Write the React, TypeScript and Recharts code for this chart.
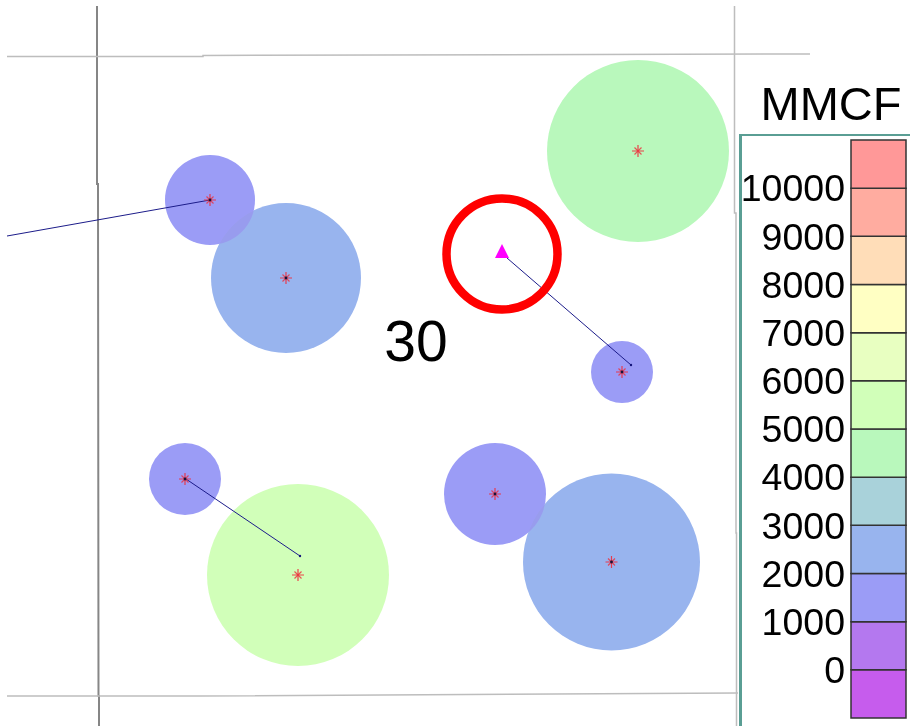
// App.tsx
import React from "react";
import { ScatterChart, Scatter, XAxis, YAxis, ZAxis, ReferenceDot, BarChart, Bar } from "recharts";

// wells, in map units
const wellX = [638, 286, 210, 622, 185, 298, 495, 611.5];
const wellY = [151, 278, 200, 372, 479, 575, 494, 562];
const wellArea = [26016, 17671, 6362, 3019, 4072, 26016, 8171, 24606];
const wellVolume = [4600, 2500, 1500, 1400, 1500, 5500, 1700, 2600];

// drawn biggest first so the small bubbles sit on top
const bubbleOrder = [0, 5, 7, 1, 2, 6, 4, 3];

const wells = bubbleOrder.map((i) => ({
  x: wellX[i],
  y: wellY[i],
  z: wellArea[i],
  volume: wellVolume[i],
}));

// legend bands, bottom to top
const bandLower = [-1000, 0, 1000, 2000, 3000, 4000, 5000, 6000, 7000, 8000, 9000, 10000];
const bandColors = [
  "#c65ced", "#b478ef", "#9b9cf6", "#98b4ee", "#a9d2da", "#b9f8bc",
  "#d1ffb9", "#e8ffc1", "#ffffc3", "#ffddb8", "#ffaca0", "#ff9898",
];
const legendTicks = [0, 1000, 2000, 3000, 4000, 5000, 6000, 7000, 8000, 9000, 10000];

const legendRow: Record<string, string | number> = { name: "MMCF" };
bandLower.forEach((lo, i) => {
  legendRow[`band${i}`] = lo < 0 ? lo : 1000;
});

// section lines
const sectionWest = [
  { x: 97, y: 6 }, { x: 97, y: 184 }, { x: 98, y: 184 }, { x: 98.5, y: 696 }, { x: 99, y: 696 }, { x: 99, y: 726 },
];
const sectionEast = [
  { x: 734.5, y: 6 }, { x: 734.5, y: 213 }, { x: 736, y: 213 }, { x: 736, y: 533 }, { x: 736.5, y: 533 }, { x: 736.5, y: 726 },
];
const sectionNorth = [
  { x: 7, y: 56.5 }, { x: 203, y: 56.5 }, { x: 203, y: 55.5 }, { x: 810, y: 54 },
];
const sectionSouth = [
  { x: 7, y: 696 }, { x: 200, y: 696 }, { x: 738, y: 693 },
];
const sections = [sectionWest, sectionEast, sectionNorth, sectionSouth];

// horizontal well paths, last point is the toe
const pathA = [{ x: 7, y: 236 }, { x: 210, y: 200 }];
const pathB = [{ x: 507, y: 258 }, { x: 631, y: 365 }];
const pathC = [{ x: 186, y: 479 }, { x: 300, y: 556 }];
const wellPaths = [pathA, pathB, pathC];

const prospect = [{ x: 502, y: 252 }];
const sectionLabels = [{ x: 416, y: 341, label: "30" }];

const bandColor = (volume: number) => {
  const i = bandLower.findIndex((lo) => volume >= lo && volume < lo + 1000);
  return bandColors[i];
};

const Bubble = (props: any) => (
  <circle
    cx={props.cx}
    cy={props.cy}
    r={props.width / 2}
    fill={bandColor(props.payload.volume)}
    style={{ mixBlendMode: "darken" }}
  />
);

const WellStar = (props: any) => {
  const { cx, cy } = props;
  const red = "#ee2f3c";
  return (
    <g>
      <path d={`M${cx - 6} ${cy}H${cx + 6}M${cx} ${cy - 6}V${cy + 6}`} stroke={red} strokeWidth={1.2} opacity={0.9} />
      <path
        d={`M${cx - 3.5} ${cy - 3.5}L${cx + 3.5} ${cy + 3.5}M${cx - 3.5} ${cy + 3.5}L${cx + 3.5} ${cy - 3.5}`}
        stroke={red}
        strokeWidth={1.2}
        opacity={0.8}
      />
      {props.payload.volume < 4000 && <circle cx={cx} cy={cy} r={1.4} fill="#14143c" />}
    </g>
  );
};

const PathToe = (props: any) =>
  props.index === 1 ? <circle cx={props.cx} cy={props.cy} r={1.2} fill="#14147a" /> : <g />;

const NoMark = () => <g />;

const ProspectMark = (props: any) => {
  const { cx, cy } = props;
  return <polygon points={`${cx},${cy - 8} ${cx + 7},${cy + 6} ${cx - 7},${cy + 6}`} fill="#ff00ff" />;
};

const SectionLabel = (props: any) => (
  <text
    x={props.cx}
    y={props.cy + 20}
    textAnchor="middle"
    fontSize={57}
    fontFamily="Liberation Sans"
    fill="#000"
  >
    {props.payload.label}
  </text>
);

export default function App() {
  return (
    <div
      style={{
        position: "absolute",
        left: 0,
        top: 0,
        width: 910,
        height: 726,
        overflow: "hidden",
        background: "#fff",
      }}
    >
      <ScatterChart width={910} height={726} margin={{ top: 0, right: 0, bottom: 0, left: 0 }}>
        <XAxis type="number" dataKey="x" domain={[0, 910]} hide />
        <YAxis type="number" dataKey="y" domain={[0, 726]} reversed hide width={0} />
        <ZAxis type="number" dataKey="z" domain={[0, 30000]} range={[0, 30000]} />
        {sections.map((line, i) => (
          <Scatter
            key={`section${i}`}
            data={line}
            line={{ stroke: i === 0 ? "#868686" : "#bdbdbd", strokeWidth: i === 0 ? 2 : 1.5 }}
            shape={NoMark}
            isAnimationActive={false}
          />
        ))}
        <Scatter data={wells} shape={Bubble} isAnimationActive={false} />
        {wellPaths.map((path, i) => (
          <Scatter
            key={`path${i}`}
            data={path}
            line={{ stroke: "#1c1c8a", strokeWidth: 1 }}
            shape={PathToe}
            isAnimationActive={false}
          />
        ))}
        <Scatter data={wells} shape={WellStar} isAnimationActive={false} />
        <Scatter data={prospect} shape={ProspectMark} isAnimationActive={false} />
        <ReferenceDot x={502} y={254} r={55.5} fill="none" stroke="#ff0000" strokeWidth={8.5} />
        <Scatter data={sectionLabels} shape={SectionLabel} isAnimationActive={false} />
      </ScatterChart>

      {/* legend box */}
      <div
        style={{
          position: "absolute",
          left: 739,
          top: 134,
          width: 220,
          height: 700,
          borderTop: "2px solid #5a9e94",
          borderLeft: "3px solid #5a9e94",
          background: "#fff",
        }}
      />
      <div
        style={{
          position: "absolute",
          left: 740,
          top: 80,
          width: 182,
          textAlign: "center",
          fontFamily: "Liberation Sans",
          fontSize: 47,
          lineHeight: 1,
          color: "#000",
        }}
      >
        MMCF
      </div>
      <div style={{ position: "absolute", left: 739, top: 135 }}>
        <BarChart
          width={171}
          height={591}
          data={[legendRow]}
          stackOffset="sign"
          barCategoryGap={0}
          margin={{ top: 5, right: 4, bottom: 8, left: 0 }}
        >
          <XAxis dataKey="name" hide />
          <YAxis
            type="number"
            domain={[-1000, 11000]}
            ticks={legendTicks}
            interval={0}
            width={112}
            axisLine={false}
            tickLine={false}
            tickMargin={0}
            tick={{ fontSize: 37.5, fontFamily: "Liberation Sans", fill: "#000" }}
          />
          {bandLower.map((lo, i) => (
            <Bar
              key={lo}
              dataKey={`band${i}`}
              stackId="bands"
              fill={bandColors[i]}
              stroke="#333"
              strokeWidth={1.5}
              isAnimationActive={false}
            />
          ))}
        </BarChart>
      </div>
    </div>
  );
}
